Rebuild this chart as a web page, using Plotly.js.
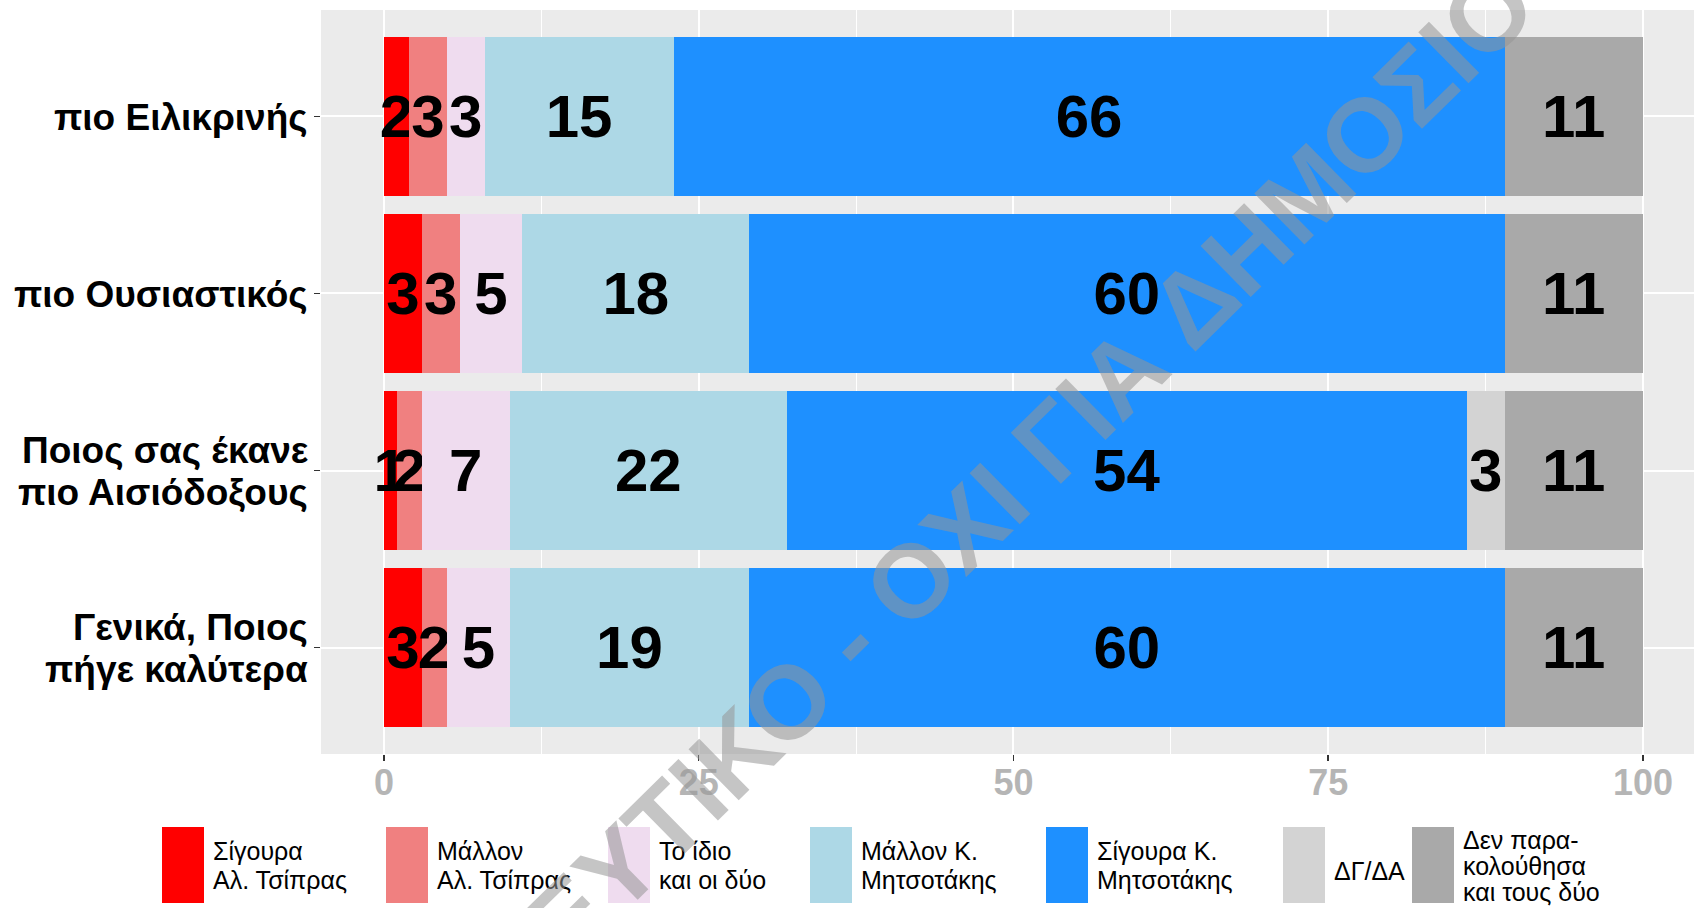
<!DOCTYPE html>
<html>
<head>
<meta charset="utf-8">
<script src="https://cdn.plot.ly/plotly-3.0.1.min.js"></script>
<style>
html,body{margin:0;padding:0;background:#fff;}
#chart{width:1694px;height:908px;}
</style>
</head>
<body>
<div id="chart"></div>
<script>
// ---- data ----
const categories = [
  "πιο Ειλικρινής",
  "πιο Ουσιαστικός",
  "Ποιος σας έκανε<br>πιο Αισιόδοξους",
  "Γενικά, Ποιος<br>πήγε καλύτερα"
];
const seriesNames = [
  "Σίγουρα<br>Αλ. Τσίπρας",
  "Μάλλον<br>Αλ. Τσίπρας",
  "Το ίδιο<br>και οι δύο",
  "Μάλλον Κ.<br>Μητσοτάκης",
  "Σίγουρα Κ.<br>Μητσοτάκης",
  "ΔΓ/ΔΑ",
  "Δεν παρα-<br>κολούθησα<br>και τους δύο"
];
const sigouraTsipras   = [2, 3, 1, 3];
const mallonTsipras    = [3, 3, 2, 2];
const toIdio           = [3, 5, 7, 5];
const mallonMitsotakis = [15, 18, 22, 19];
const sigouraMitsotakis= [66, 60, 54, 60];
const dkna             = [0, 0, 3, 0];
const denParakolouthisa= [11, 11, 11, 11];
const xTickVals = [0, 25, 50, 75, 100];
const watermarkText = "ΕΜΠΙΣΤΕΥΤΙΚΟ - ΟΧΙ ΓΙΑ ΔΗΜΟΣΙΟΤΗΤΑ";

const seriesValues = [sigouraTsipras, mallonTsipras, toIdio, mallonMitsotakis, sigouraMitsotakis, dkna, denParakolouthisa];
const colors = ["#FF0000", "#F08080", "#EFDCEF", "#ADD8E6", "#1E90FF", "#D3D3D3", "#A9A9A9"];

const FONT = "Liberation Sans, Arial, sans-serif";

const traces = seriesValues.map((vals, i) => ({
  type: "bar",
  orientation: "h",
  name: seriesNames[i],
  x: vals,
  y: categories,
  width: 0.9,
  marker: {color: colors[i], line: {width: 0}},
  text: vals.map(v => v > 0 ? String(v) : ""),
  textposition: "inside",
  insidetextanchor: "middle",
  constraintext: "none",
  textangle: 0,
  textfont: {family: FONT, size: 60, color: "#000", weight: "bold"},
  hoverinfo: "skip",
  showlegend: false
}));

// ---- layout geometry (pixels) ----
const W = 1694, H = 908;
const mL = 321, mR = 0, mT = 10, mB = 154;
const pw = W - mL - mR, ph = H - mT - mB;
const px2x = p => (p - mL) / pw;
const px2y = p => (H - mB - p) / ph;

const shapes = [];
const annotations = [];

// y-axis category labels (one text per line, tighter line spacing like the original)
categories.forEach((cat) => {
  const lines = cat.split("<br>");
  const offs = lines.length === 1 ? [1] : [-20, 22];
  lines.forEach((ln, j) => {
    annotations.push({
      xref: "paper", yref: "y",
      x: px2x(310), y: cat, yshift: -offs[j],
      xanchor: "right", yanchor: "middle",
      text: ln, showarrow: false,
      font: {family: FONT, size: 37, color: "#000", weight: "bold"}
    });
  });
});

// legend built from series names/colors
const keyLefts = [162, 386, 608, 810, 1046, 1283, 1412];
const keyW = 42, keyTop = 827, keyBot = 903;
seriesNames.forEach((nm, i) => {
  shapes.push({
    type: "rect", xref: "paper", yref: "paper",
    x0: px2x(keyLefts[i]), x1: px2x(keyLefts[i] + keyW),
    y0: px2y(keyBot), y1: px2y(keyTop),
    fillcolor: colors[i], line: {width: 0}, layer: "above"
  });
  const lines = nm.split("<br>");
  const n = lines.length;
  const spacing = n === 3 ? 26 : 29;
  const center = n === 1 ? 871 : (n === 2 ? 865.5 : 866);
  lines.forEach((ln, j) => {
    const cy = center + (j - (n - 1) / 2) * spacing;
    annotations.push({
      xref: "paper", yref: "paper",
      x: px2x(keyLefts[i] + keyW + 7), y: px2y(cy),
      xanchor: "left", yanchor: "middle",
      text: ln, showarrow: false,
      font: {family: FONT, size: 25, color: "#000"}
    });
  });
});

// watermark
annotations.push({
  xref: "paper", yref: "paper",
  x: px2x(988), y: px2y(505),
  xanchor: "center", yanchor: "middle",
  text: watermarkText, showarrow: false, textangle: -44.5,
  font: {family: FONT, size: 104, color: "rgba(150,150,150,0.55)", weight: "bold"}
});

const layout = {
  width: W, height: H,
  margin: {l: mL, r: mR, t: mT, b: mB, pad: 0},
  paper_bgcolor: "#FFFFFF",
  plot_bgcolor: "#EBEBEB",
  barmode: "stack",
  showlegend: false,
  font: {family: FONT},
  xaxis: {
    range: [-5, 104.05],
    tickvals: xTickVals,
    ticktext: xTickVals.map(String),
    showgrid: true, gridcolor: "#FFFFFF", gridwidth: 2,
    minor: {dtick: 12.5, tick0: 0, showgrid: true, gridcolor: "#FFFFFF", gridwidth: 1},
    zeroline: false, showline: false,
    ticks: "outside", ticklen: 6, tickcolor: "#333333", tickwidth: 1.5,
    ticklabelstandoff: -9,
    tickfont: {family: FONT, size: 36, color: "#B5B5B5", weight: "bold"},
    fixedrange: true
  },
  yaxis: {
    type: "category",
    categoryorder: "array", categoryarray: categories,
    range: [3.6, -0.6],
    showgrid: true, gridcolor: "#FFFFFF", gridwidth: 2,
    zeroline: false, showline: false,
    ticks: "outside", ticklen: 6, tickcolor: "#333333", tickwidth: 1.5,
    showticklabels: false,
    fixedrange: true
  },
  shapes: shapes,
  annotations: annotations
};

Plotly.newPlot("chart", traces, layout, {displayModeBar: false, staticPlot: true});
</script>
</body>
</html>
